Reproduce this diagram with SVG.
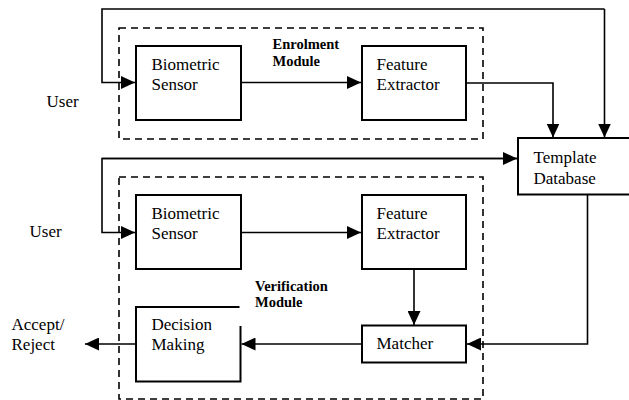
<svg xmlns="http://www.w3.org/2000/svg" width="629" height="400" viewBox="0 0 629 400">
<style>
.box{fill:#fff;stroke:#000;stroke-width:2}
.dash{fill:none;stroke:#000;stroke-width:1.6;stroke-dasharray:7 5}
.ln{fill:none;stroke:#000;stroke-width:1.6}
.t{font-family:'Liberation Serif','Times New Roman',Times,Tinos,'DejaVu Serif',serif;font-size:17px;fill:#000}
.b{font-family:'Liberation Serif','Times New Roman',Times,Tinos,'DejaVu Serif',serif;font-size:14.5px;font-weight:bold;fill:#000}
</style>
<defs>
<marker id="ah" viewBox="0 0 14 13" refX="14" refY="6.5" markerWidth="14" markerHeight="13" markerUnits="userSpaceOnUse" orient="auto">
<path d="M0,0 L14,6.5 L0,13 Z" fill="#000"/>
</marker>
</defs>
<g id="enrolment-module">
<rect class="dash" x="119" y="28" width="364" height="111"/>
<text class="b" x="272.5" y="48.5">Enrolment</text>
<text class="b" x="272.5" y="65.5">Module</text>
</g>
<g id="verification-module">
<rect class="dash" x="119" y="177" width="364" height="222"/>
<text class="b" x="255" y="291">Verification</text>
<text class="b" x="255" y="307">Module</text>
</g>
<g id="user1"><text class="t" x="46.5" y="106.5">User</text></g>
<g id="user2"><text class="t" x="29.5" y="237">User</text></g>
<g id="accept-reject"><text class="t" x="11.5" y="330">Accept/</text><text class="t" x="11.5" y="349.5">Reject</text></g>
<g id="sensor1">
<rect class="box" x="136" y="46" width="105" height="74"/>
<text class="t" x="151.5" y="70">Biometric</text>
<text class="t" x="151.5" y="90">Sensor</text>
</g>
<g id="extractor1">
<rect class="box" x="362" y="46" width="104" height="74"/>
<text class="t" x="376.5" y="70">Feature</text>
<text class="t" x="376.5" y="90">Extractor</text>
</g>
<g id="template-db">
<path class="box" d="M632,138 H518 V194.5 H632"/>
<text class="t" x="533.5" y="163">Template</text>
<text class="t" x="533.5" y="183.5">Database</text>
</g>
<g id="sensor2">
<rect class="box" x="136" y="195" width="105" height="74"/>
<text class="t" x="151.5" y="218.5">Biometric</text>
<text class="t" x="151.5" y="239">Sensor</text>
</g>
<g id="extractor2">
<rect class="box" x="362" y="195" width="104" height="74"/>
<text class="t" x="376.5" y="218.5">Feature</text>
<text class="t" x="376.5" y="239">Extractor</text>
</g>
<g id="matcher">
<rect class="box" x="362" y="325.5" width="104" height="37"/>
<text class="t" x="376.5" y="348.5">Matcher</text>
</g>
<g id="decision">
<path class="box" d="M240.5,326 V381.5 H136 V307 H239.5"/>
<text class="t" x="151.5" y="330">Decision</text>
<text class="t" x="151.5" y="349.5">Making</text>
</g>
<g id="connectors">
<path class="ln" d="M604.5,9 H102 V82.5 H135" marker-end="url(#ah)"/>
<path class="ln" d="M604.5,9 V137.5" marker-end="url(#ah)"/>
<path class="ln" d="M241,82.5 H361" marker-end="url(#ah)"/>
<path class="ln" d="M467,83 H553 V137.5" marker-end="url(#ah)"/>
<path class="ln" d="M517,158.5 H102 V232.5 H135" marker-end="url(#ah)"/>
<path class="ln" d="M102,158.5 H517" marker-end="url(#ah)"/>
<path class="ln" d="M241,232.5 H361" marker-end="url(#ah)"/>
<path class="ln" d="M414,270 V325" marker-end="url(#ah)"/>
<path class="ln" d="M587.5,195 V344 H467" marker-end="url(#ah)"/>
<path class="ln" d="M361,344 H241.5" marker-end="url(#ah)"/>
<path class="ln" d="M135,344 H85" marker-end="url(#ah)"/>
</g>
</svg>
